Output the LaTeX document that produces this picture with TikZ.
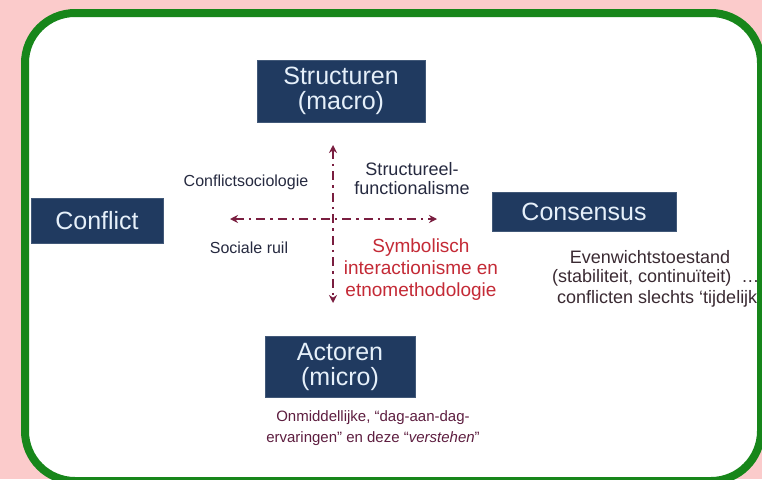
\documentclass[tikz,border=0pt]{standalone}
\usepackage{fontspec}
\setmainfont{Liberation Sans}
\usetikzlibrary{arrows.meta}
\definecolor{pinkbg}{HTML}{FBCBCB}
\definecolor{framegreen}{HTML}{17861A}
\definecolor{navy}{HTML}{203A60}
\definecolor{boxtext}{HTML}{E6F0FA}
\definecolor{axiscol}{HTML}{7A1E40}
\definecolor{ink}{HTML}{262A40}
\definecolor{redtext}{HTML}{C42A36}
\definecolor{maroon}{HTML}{5E1E40}
\definecolor{greyink}{HTML}{3A2A32}

\begin{document}
\begin{tikzpicture}[x=1pt,y=-1pt,
  darkbox/.style={fill=navy, draw=navy!85!white, line width=0.6pt, text=boxtext,
    font=\fontsize{25}{25}\selectfont, align=center, inner sep=0pt},
  axisline/.style={axiscol, line width=2.6pt,
    dash pattern=on 9pt off 5pt on 2.5pt off 5pt,
    {Stealth[length=8pt,width=8pt]}-{Stealth[length=8pt,width=8pt]}},
  label/.style={inner sep=0pt, align=center},
]
% page and framed panel
\useasboundingbox (0,0) rectangle (762,479);
\fill[pinkbg] (0,0) rectangle (762,479);
\fill[white, rounded corners=50pt] (25,13) rectangle (761,481);

% the four poles
\node[darkbox, minimum width=168pt, minimum height=62pt] (struct) at (341,91) {Structuren\\(macro)};
\node[darkbox, minimum width=132pt, minimum height=45pt] (conflict) at (97,220.5) {Conflict};
\node[darkbox, minimum width=184pt, minimum height=39pt] (consensus) at (584,211.5) {Consensus};
\node[darkbox, minimum width=150pt, minimum height=61pt] (actor) at (340,366.5) {Actoren\\(micro)};

% axes
\coordinate (hl) at (230,219);
\coordinate (hr) at (437,219);
\coordinate (vt) at (333,145);
\coordinate (vb) at (333,303);
\draw[axisline] (hl) -- (hr);
\draw[axisline] (vt) -- (vb);

% quadrant labels
\node[label, text=ink, font=\fontsize{16}{18}\selectfont] (csoc) at (246,182) {Conflictsociologie};
\node[label, text=ink, font=\fontsize{18}{19}\selectfont] (sfunc) at (412,178.5) {Structureel-\\functionalisme};
\node[label, text=ink, font=\fontsize{16}{18}\selectfont] (ruil) at (249,248) {Sociale ruil};
\node[label, text=redtext, font=\fontsize{19}{22}\selectfont] (symb) at (421,270) {Symbolisch\\interactionisme en\\etnomethodologie};

% notes under Consensus (running into the frame)
\node[label, text=greyink, font=\fontsize{18}{20}\selectfont] (ev1) at (650,257) {Evenwichtstoestand};
\node[label, text=greyink, font=\fontsize{18}{20}\selectfont, anchor=west] (ev2) at (552,278) {(stabiliteit, continuïteit) \ …};
\node[label, text=greyink, font=\fontsize{18}{20}\selectfont, anchor=west] (ev3) at (557,299) {conflicten slechts ‘tijdelijk};

% note under Actoren
\node[label, text=maroon, font=\fontsize{15}{21}\selectfont] (onm) at (373,428) {Onmiddellijke, “dag-aan-dag-\\ervaringen” en deze “\textit{verstehen}”};

% frame on top
\draw[framegreen, line width=8pt, rounded corners=50pt] (25,13) rectangle (761,481);
\end{tikzpicture}
\end{document}
